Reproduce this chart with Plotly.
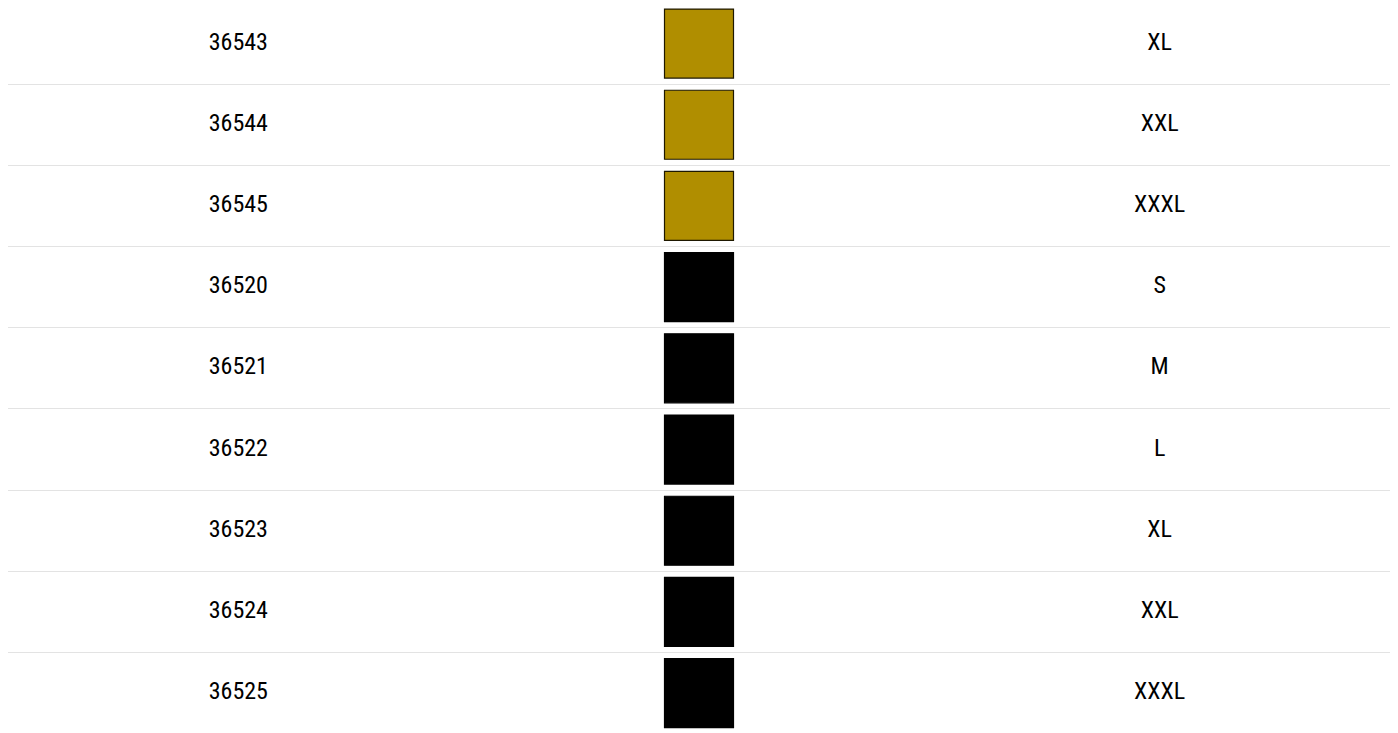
import plotly.graph_objects as go

# Data
article_ids = ["36543", "36544", "36545", "36520", "36521", "36522", "36523", "36524", "36525"]
swatch_colors = ["#b08e00", "#b08e00", "#b08e00", "#000000", "#000000", "#000000", "#000000", "#000000", "#000000"]
border_colors = ["#1e1800", "#1e1800", "#1e1800", "#000000", "#000000", "#000000", "#000000", "#000000", "#000000"]
sizes = ["XL", "XXL", "XXXL", "S", "M", "L", "XL", "XXL", "XXXL"]

rows = list(range(len(article_ids)))
FONT = "Liberation Sans Narrow, Roboto Condensed, Arial Narrow, Roboto, sans-serif"

W, H = 1382, 725
ROW_PX = 81.2
TOP_OFFSET = 0.062  # fraction of the first row scrolled above the top edge
y_top = -0.5 + TOP_OFFSET
y_bottom = y_top + H / ROW_PX

fig = go.Figure()

fig.add_trace(go.Scatter(
    x=[0.5] * len(rows), y=rows, mode="text", text=article_ids,
    textfont=dict(family=FONT, size=24, color="#000000"),
    hoverinfo="skip", showlegend=False,
))

fig.add_trace(go.Scatter(
    x=[1.5] * len(rows), y=rows, mode="markers",
    marker=dict(symbol="square", size=69, color=swatch_colors,
                line=dict(color=border_colors, width=1.2)),
    hoverinfo="skip", showlegend=False,
))

fig.add_trace(go.Scatter(
    x=[2.5] * len(rows), y=rows, mode="text", text=sizes,
    textfont=dict(family=FONT, size=24, color="#000000"),
    hoverinfo="skip", showlegend=False,
))

dividers = [r + 0.5 for r in rows[:-1]]

fig.update_layout(
    width=W, height=H,
    margin=dict(l=0, r=0, t=0, b=0),
    paper_bgcolor="white", plot_bgcolor="white",
    xaxis=dict(range=[0, 3], visible=False, fixedrange=True),
    yaxis=dict(range=[y_bottom, y_top], tickvals=dividers, showticklabels=False,
               showgrid=True, gridcolor="#e3e3e3", gridwidth=1.3, zeroline=False,
               showline=False, ticks="", fixedrange=True),
)

fig.write_html("out.html", config={"displayModeBar": False})
